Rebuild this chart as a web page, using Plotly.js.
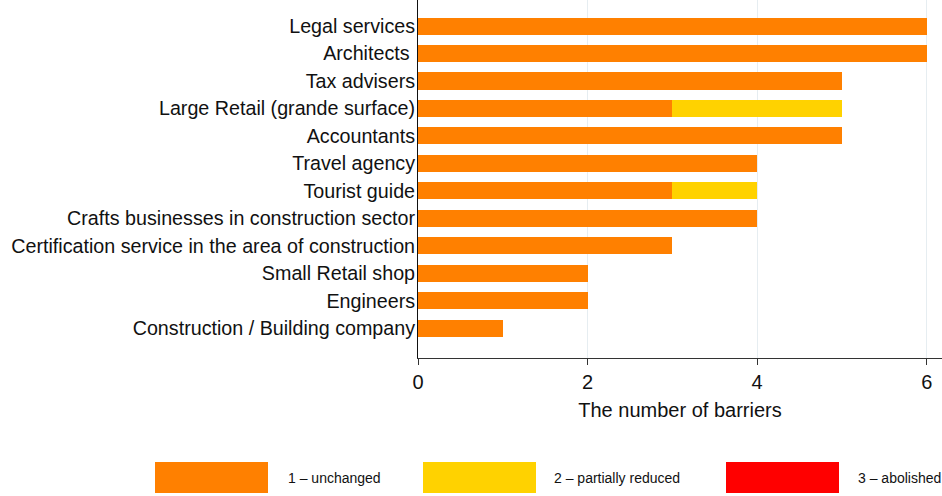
<!DOCTYPE html>
<html>
<head>
<meta charset="utf-8">
<script src="https://cdn.plot.ly/plotly-3.0.1.min.js"></script>
<style>html,body{margin:0;padding:0;background:#fff;}#chart{width:942px;height:496px;}</style>
</head>
<body>
<div id="chart"></div>
<script>
const categories = [
  "Legal services",
  "Architects ",
  "Tax advisers",
  "Large Retail (grande surface)",
  "Accountants",
  "Travel agency",
  "Tourist guide",
  "Crafts businesses in construction sector",
  "Certification service in the area of construction",
  "Small Retail shop",
  "Engineers",
  "Construction / Building company"
];
const unchanged        = [6, 6, 5, 3, 5, 4, 3, 4, 3, 2, 2, 1];
const partiallyReduced = [0, 0, 0, 2, 0, 0, 1, 0, 0, 0, 0, 0];
const abolished        = [0, 0, 0, 0, 0, 0, 0, 0, 0, 0, 0, 0];
const seriesNames  = ["1 \u2013 unchanged", "2 \u2013 partially reduced", "3 \u2013 abolished"];
const seriesColors = ["#FF8000", "#FFD200", "#FF0000"];
const xTicks = [0, 2, 4, 6];

const W = 942, H = 496, ML = 418, MR = 0, MT = 0, MB = 138;
const PW = W - ML - MR, PH = H - MT - MB;
const px = x => (x - ML) / PW;
const py = y => (H - MB - y) / PH;

const series = [unchanged, partiallyReduced, abolished];
const traces = series.map((vals, i) => ({
  type: "bar",
  orientation: "h",
  y: categories,
  x: vals,
  name: seriesNames[i],
  marker: {color: seriesColors[i], line: {width: 0}},
  showlegend: false,
  hoverinfo: "x+y+name"
}));

// custom legend (wide swatches)
const legBoxes = [[155, 268], [423, 536], [726, 839]];
const legText = [286, 552, 856];
const shapes = legBoxes.map((b, i) => ({
  type: "rect", xref: "paper", yref: "paper",
  x0: px(b[0]), x1: px(b[1]), y0: py(493), y1: py(462),
  fillcolor: seriesColors[i], line: {width: 0}
}));
const annotations = seriesNames.map((n, i) => ({
  xref: "paper", yref: "paper", x: px(legText[i]), y: py(478),
  xanchor: "left", yanchor: "middle", showarrow: false, text: n,
  font: {family: "Liberation Sans, Arial, sans-serif", size: 14, color: "#111"}
}));

const layout = {
  width: W, height: H,
  margin: {l: ML, r: MR, t: MT, b: MB, pad: 0},
  barmode: "stack",
  bargap: 0.38,
  paper_bgcolor: "#fff", plot_bgcolor: "#fff",
  font: {family: "Liberation Sans, Arial, sans-serif", size: 19.7, color: "#111"},
  xaxis: {
    range: [0, 6.18],
    tickvals: xTicks, ticktext: xTicks.map(String),
    showgrid: true, gridcolor: "#e6edf1", gridwidth: 1,
    zeroline: false,
    showline: true, linecolor: "#333", linewidth: 1,
    ticks: "outside", ticklen: 6, tickcolor: "#333",
    tickfont: {size: 20},
    title: {text: "The number of barriers", font: {size: 20}, standoff: 10}
  },
  yaxis: {
    type: "category",
    range: [12.09, -0.95],
    showgrid: false, zeroline: false,
    showline: true, linecolor: "#111", linewidth: 1,
    ticks: "", ticklabelstandoff: -2,
    tickfont: {size: 19.7}
  },
  shapes: shapes,
  annotations: annotations,
  showlegend: false
};

Plotly.newPlot("chart", traces, layout, {displayModeBar: false, staticPlot: true});
</script>
</body>
</html>
